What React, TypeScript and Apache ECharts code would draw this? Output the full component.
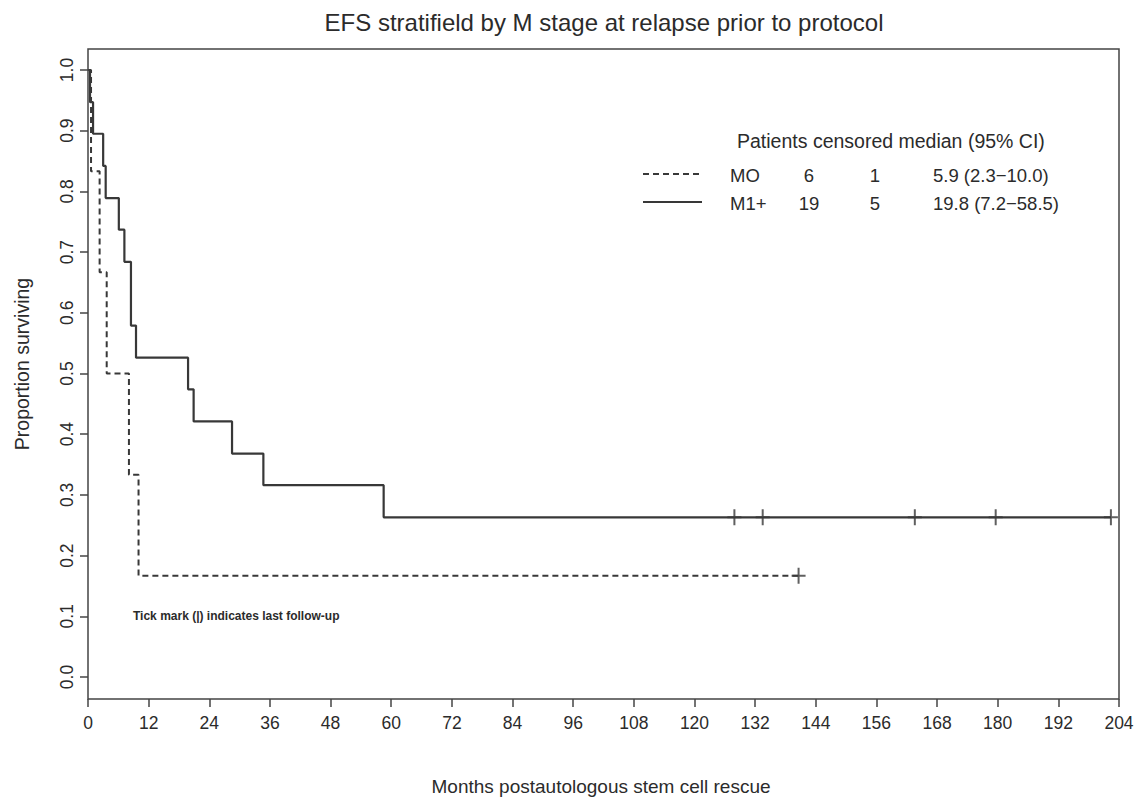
import React, { useEffect, useRef } from "react";
import * as echarts from "echarts";

const TITLE = "EFS stratifield by M stage at relapse prior to protocol";
const X_NAME = "Months postautologous stem cell rescue";
const Y_NAME = "Proportion surviving";
const NOTE = "Tick mark (|) indicates last follow-up";

const X_MIN = 0;
const X_MAX = 204;
const X_STEP = 12;
const Y_STEP = 0.1;

// MO group (dashed): event times (months) and survival after each step
const m0Times = [0, 0.6, 2.3, 3.7, 8.1, 10.0, 140.6];
const m0Surv = [1.0, 0.833, 0.667, 0.5, 0.333, 0.167, 0.167];
const m0CensorTimes = [140.6];
const m0CensorSurv = [0.167];

// M1+ group (solid)
const m1Times = [0, 0.4, 1.0, 3.0, 3.5, 6.1, 7.2, 8.5, 9.5, 19.8, 20.9, 28.5, 34.7, 58.5, 202.4];
const m1Surv = [1.0, 0.947, 0.895, 0.842, 0.789, 0.737, 0.684, 0.579, 0.526, 0.474, 0.421, 0.368, 0.316, 0.263, 0.263];
const m1CensorTimes = [127.9, 133.5, 163.6, 179.6, 202.4];
const m1CensorSurv = [0.263, 0.263, 0.263, 0.263, 0.263];

// legend table
const legendHeader = "Patients censored median (95% CI)";
const legendGroups = ["MO", "M1+"];
const legendPatients = ["6", "19"];
const legendCensored = ["1", "5"];
const legendMedian = ["5.9 (2.3\u221210.0)", "19.8 (7.2\u221258.5)"];
const legendDash = [true, false];

const FONT = "'Liberation Sans', Arial, Helvetica, sans-serif";
const INK = "#2b2b2b";
const LINE = "#383838";
const PLUS = "path://M6,0h2v16h-2z M0,7h14v2h-14z";

function zip(a: number[], b: number[]) {
  return a.map((v, i) => [v, b[i]]);
}

export default function App() {
  const ref = useRef<HTMLDivElement>(null);

  useEffect(() => {
    if (!ref.current) return;
    const chart = echarts.init(ref.current, undefined, { renderer: "svg" });

    const gridLeft = 88;
    const gridRight = 1142 - 1119;
    const gridTop = 70;
    const gridBottom = 797 - 677;
    const LF = `18.5px ${FONT}`;

    const legendGraphics: any[] = [];
    legendGraphics.push({
      type: "text",
      x: 737,
      y: 141,
      style: { text: legendHeader, font: `19.5px ${FONT}`, fill: INK, textVerticalAlign: "middle" },
    });
    legendGroups.forEach((g, i) => {
      const y = 175 + i * 28;
      legendGraphics.push({
        type: "line",
        shape: { x1: 643, y1: y - 1, x2: 702, y2: y - 1 },
        style: { stroke: LINE, lineWidth: 2, lineDash: legendDash[i] ? [6, 4] : null },
      });
      legendGraphics.push({
        type: "text", x: 730, y,
        style: { text: g, font: LF, fill: INK, textVerticalAlign: "middle" },
      });
      legendGraphics.push({
        type: "text", x: 809, y,
        style: { text: legendPatients[i], font: LF, fill: INK, textAlign: "center", textVerticalAlign: "middle" },
      });
      legendGraphics.push({
        type: "text", x: 875, y,
        style: { text: legendCensored[i], font: LF, fill: INK, textAlign: "center", textVerticalAlign: "middle" },
      });
      legendGraphics.push({
        type: "text", x: 933, y,
        style: { text: legendMedian[i], font: LF, fill: INK, textVerticalAlign: "middle" },
      });
    });

    const option: any = {
      animation: false,
      backgroundColor: "#fff",
      grid: { left: gridLeft, right: gridRight, top: gridTop, bottom: gridBottom, containLabel: false },
      xAxis: {
        type: "value",
        min: X_MIN,
        max: X_MAX,
        interval: X_STEP,
        offset: 22,
        axisLine: { show: false, onZero: false },
        axisTick: { show: true, length: 8, inside: false, lineStyle: { color: "#444", width: 1.5 } },
        axisLabel: { fontFamily: FONT, fontSize: 17.5, color: INK, margin: 15 },
        splitLine: { show: false },
      },
      yAxis: {
        type: "value",
        min: 0,
        max: 1,
        interval: Y_STEP,
        axisLine: { show: false, onZero: false },
        axisTick: { show: true, length: 8, inside: false, lineStyle: { color: "#444", width: 1.5 } },
        axisLabel: {
          fontFamily: FONT, fontSize: 17.5, color: INK, margin: 12, rotate: 90,
          formatter: (v: number) => v.toFixed(1),
        },
        splitLine: { show: false },
      },
      series: [
        {
          type: "line",
          name: legendGroups[0],
          data: zip(m0Times, m0Surv),
          step: "end",
          showSymbol: false,
          symbol: "none",
          lineStyle: { color: LINE, width: 2, type: [6, 4] },
          z: 3,
        },
        {
          type: "line",
          name: legendGroups[1],
          data: zip(m1Times, m1Surv),
          step: "end",
          showSymbol: false,
          symbol: "none",
          lineStyle: { color: LINE, width: 2.2, type: "solid" },
          z: 3,
        },
        {
          type: "scatter",
          data: zip(m0CensorTimes, m0CensorSurv),
          symbol: PLUS,
          symbolSize: [14, 16],
          itemStyle: { color: LINE },
          z: 4,
        },
        {
          type: "scatter",
          data: zip(m1CensorTimes, m1CensorSurv),
          symbol: PLUS,
          symbolSize: [14, 16],
          itemStyle: { color: LINE },
          z: 4,
        },
      ],
      graphic: [
        {
          type: "rect",
          shape: { x: 88, y: 49, width: 1031, height: 650 },
          style: { fill: "none", stroke: "#444", lineWidth: 1.5 },
          silent: true,
          z: 10,
        },
        {
          type: "text",
          x: 604,
          y: 22,
          style: { text: TITLE, font: `24px ${FONT}`, fill: INK, textAlign: "center", textVerticalAlign: "middle" },
        },
        {
          type: "text",
          x: 601,
          y: 786,
          style: { text: X_NAME, font: `19px ${FONT}`, fill: INK, textAlign: "center", textVerticalAlign: "middle" },
        },
        {
          type: "text",
          x: 22,
          y: 364,
          rotation: Math.PI / 2,
          style: { text: Y_NAME, font: `19.5px ${FONT}`, fill: INK, textAlign: "center", textVerticalAlign: "middle" },
        },
        {
          type: "text",
          x: 133,
          y: 616,
          style: { text: NOTE, font: `bold 12px 'Liberation Sans Narrow', ${FONT}`, fill: INK, textVerticalAlign: "middle" },
        },
        ...legendGraphics,
      ],
    };

    chart.setOption(option);
    return () => chart.dispose();
  }, []);

  return (
    <div
      ref={ref}
      style={{ position: "fixed", left: 0, top: 0, width: 1142, height: 797, background: "#fff" }}
    />
  );
}
